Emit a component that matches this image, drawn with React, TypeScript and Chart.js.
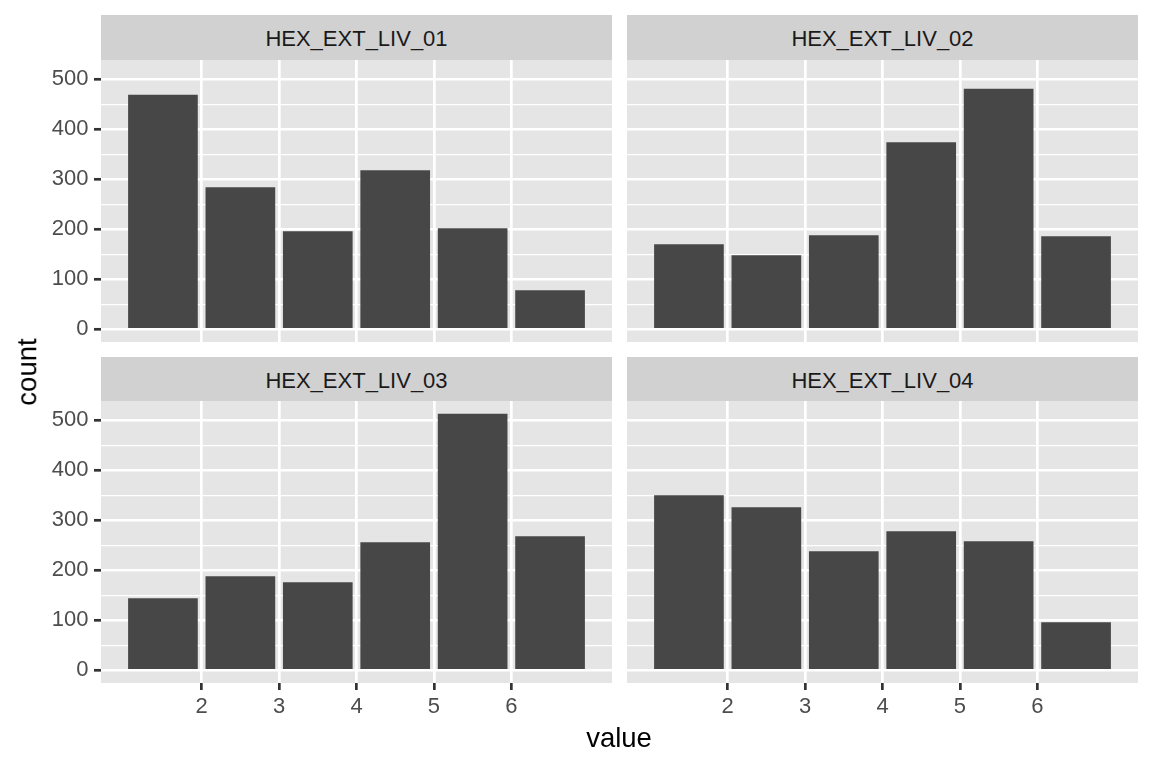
import React, { useEffect, useRef } from "react";
import { Chart, registerables } from "chart.js";

Chart.register(...registerables);

// ---- data ----
const panelNames = ["HEX_EXT_LIV_01", "HEX_EXT_LIV_02", "HEX_EXT_LIV_03", "HEX_EXT_LIV_04"];
const binEdges = [1, 2, 3, 4, 5, 6, 7];
const binCenters = [1.5, 2.5, 3.5, 4.5, 5.5, 6.5];
const counts01 = [469, 284, 196, 318, 202, 78];
const counts02 = [170, 148, 188, 374, 481, 186];
const counts03 = [144, 188, 176, 256, 513, 268];
const counts04 = [350, 326, 238, 278, 258, 96];
const xTickValues = [2, 3, 4, 5, 6];
const yMajorTicks = [0, 100, 200, 300, 400, 500];
const yMinorTicks = [50, 150, 250, 350, 450];
const xTitle = "value";
const yTitle = "count";

const allCounts = [counts01, counts02, counts03, counts04];

// ---- style ----
const FONT = "'Liberation Sans', Arial, Helvetica, sans-serif";
const PANEL_BG = "#E5E5E5";
const STRIP_BG = "#D1D1D1";
const BAR_FILL = "#474747";
const TICK_TEXT = "#4D4D4D";
const TICK_LINE = "#333333";

const xLo = binEdges[0];
const xHi = binEdges[binEdges.length - 1];
const xPad = (xHi - xLo) * 0.05;
const yMaxData = Math.max(...allCounts.flat());
const yPad = yMaxData * 0.05;

const panelBgPlugin = {
  id: "panelBg",
  beforeDraw(chart: any) {
    const { ctx, chartArea } = chart;
    if (!chartArea) return;
    ctx.save();
    ctx.fillStyle = PANEL_BG;
    ctx.fillRect(chartArea.left, chartArea.top, chartArea.right - chartArea.left, chartArea.bottom - chartArea.top);
    ctx.restore();
  },
};

type PanelProps = {
  counts: number[];
  showY: boolean;
  showX: boolean;
  left: number;
  top: number;
  width: number;
  height: number;
  yAxisWidth: number;
  xAxisHeight: number;
};

function Panel(props: PanelProps) {
  const ref = useRef<HTMLCanvasElement | null>(null);
  const { counts, showY, showX, left, top, width, height, yAxisWidth, xAxisHeight } = props;

  useEffect(() => {
    if (!ref.current) return;
    const yTickAll = [...yMajorTicks, ...yMinorTicks].sort((a, b) => a - b);
    const chart = new Chart(ref.current, {
      type: "bar",
      data: {
        datasets: [
          {
            data: binCenters.map((x, i) => ({ x, y: counts[i] })),
            backgroundColor: BAR_FILL,
            borderWidth: 0,
            barPercentage: 0.9,
            categoryPercentage: 1,
          } as any,
        ],
      },
      options: {
        responsive: false,
        maintainAspectRatio: false,
        animation: false,
        devicePixelRatio: 1,
        layout: { padding: 0 },
        plugins: {
          legend: { display: false },
          tooltip: { enabled: false },
          title: { display: false },
        },
        scales: {
          x: {
            type: "linear",
            min: xLo - xPad,
            max: xHi + xPad,
            offset: false,
            afterBuildTicks: (s: any) => {
              s.ticks = xTickValues.map((v) => ({ value: v }));
            },
            ticks: {
              display: showX,
              autoSkip: false,
              maxRotation: 0,
              minRotation: 0,
              padding: 3.5,
              color: TICK_TEXT,
              font: { family: FONT, size: 22, lineHeight: 1.2 },
              callback: (v: any) => String(v),
            },
            grid: {
              offset: false,
              color: "#FFFFFF",
              lineWidth: 2.7,
              drawTicks: showX,
              tickLength: 7,
              tickColor: TICK_LINE,
              tickWidth: 2.7,
            },
            border: { display: false },
            afterFit: (s: any) => {
              s.height = xAxisHeight;
              s.paddingLeft = 0;
              s.paddingRight = 0;
            },
          } as any,
          y: {
            type: "linear",
            min: -yPad,
            max: yMaxData + yPad,
            beginAtZero: false,
            afterBuildTicks: (s: any) => {
              s.ticks = yTickAll.map((v) => ({ value: v }));
            },
            ticks: {
              display: showY,
              autoSkip: false,
              padding: 5.5,
              color: TICK_TEXT,
              font: { family: FONT, size: 22, lineHeight: 1.2 },
              callback: (v: any) => (yMajorTicks.includes(v) ? String(v) : ""),
            },
            grid: {
              color: "#FFFFFF",
              lineWidth: (c: any) => (c.tick && yMajorTicks.includes(c.tick.value) ? 2.6 : 1.3),
              drawTicks: showY,
              tickLength: 7,
              tickColor: (c: any) =>
                c.tick && yMajorTicks.includes(c.tick.value) ? TICK_LINE : "rgba(0,0,0,0)",
              tickWidth: 2.7,
            },
            border: { display: false },
            afterFit: (s: any) => {
              s.width = yAxisWidth;
              s.paddingTop = 0;
              s.paddingBottom = 0;
            },
          } as any,
        },
      },
      plugins: [panelBgPlugin],
    });
    return () => chart.destroy();
  }, [counts, showY, showX, width, height, yAxisWidth, xAxisHeight]);

  return (
    <canvas
      ref={ref}
      width={width}
      height={height}
      style={{ position: "absolute", left, top, width, height }}
    />
  );
}

function Strip({ label, left, top, width, height }: { label: string; left: number; top: number; width: number; height: number }) {
  return (
    <div style={{ position: "absolute", left, top, width, height, background: STRIP_BG }}>
      <div
        style={{
          position: "absolute",
          left: 0,
          top: 13,
          width,
          textAlign: "center",
          fontFamily: FONT,
          fontSize: 22,
          lineHeight: "22px",
          color: "#1A1A1A",
          whiteSpace: "nowrap",
        }}
      >
        {label}
      </div>
    </div>
  );
}

export default function App() {
  const colLeft = [101, 627];
  const panelW = 511;
  const panelH = 282;
  const rowTop = [60, 401];
  const stripTop = [15, 357];
  const stripH = 44.5;
  const yAxisW = 101;
  const xAxisH = 60;

  const panels = [0, 1, 2, 3].map((i) => {
    const col = i % 2;
    const row = Math.floor(i / 2);
    const showY = col === 0;
    const showX = row === 1;
    const left = showY ? colLeft[col] - yAxisW : colLeft[col];
    const width = showY ? panelW + yAxisW : panelW;
    const height = showX ? panelH + xAxisH : panelH;
    return (
      <React.Fragment key={i}>
        <Strip label={panelNames[i]} left={colLeft[col]} top={stripTop[row]} width={panelW} height={stripH} />
        <Panel
          counts={allCounts[i]}
          showY={showY}
          showX={showX}
          left={left}
          top={rowTop[row]}
          width={width}
          height={height}
          yAxisWidth={showY ? yAxisW : 0}
          xAxisHeight={showX ? xAxisH : 0}
        />
      </React.Fragment>
    );
  });

  return (
    <div
      style={{
        position: "absolute",
        left: 0,
        top: 0,
        width: 1152,
        height: 768,
        background: "#FFFFFF",
        overflow: "hidden",
      }}
    >
      {panels}
      <div
        style={{
          position: "absolute",
          left: 619 - 150,
          top: 723.7,
          width: 300,
          textAlign: "center",
          fontFamily: FONT,
          fontSize: 27.5,
          lineHeight: "27.5px",
          color: "#000000",
          whiteSpace: "nowrap",
        }}
      >
        {xTitle}
      </div>
      <div
        style={{
          position: "absolute",
          left: 26.5,
          top: 371.5,
          width: 300,
          textAlign: "center",
          fontFamily: FONT,
          fontSize: 27.5,
          lineHeight: "27.5px",
          color: "#000000",
          whiteSpace: "nowrap",
          transform: "translate(-50%, -50%) rotate(-90deg)",
        }}
      >
        {yTitle}
      </div>
    </div>
  );
}
